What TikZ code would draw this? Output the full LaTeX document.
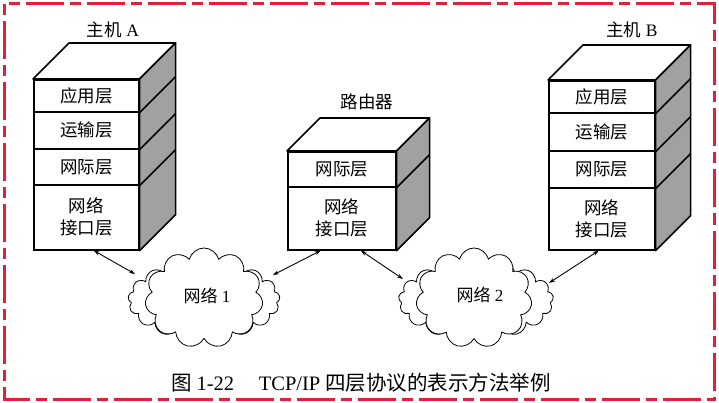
\documentclass[tikz,border=0pt]{standalone}
\usepackage{fontspec}
\setmainfont{Liberation Serif}
\newfontfamily\cjk{Noto Sans CJK SC}
\usetikzlibrary{shapes.symbols,arrows.meta,calc}

\definecolor{frame}{RGB}{226,32,58}
\definecolor{sidegray}{gray}{0.63}

\tikzset{
  layer/.style={draw, line width=1.6pt, fill=white, anchor=north west,
    inner sep=0pt, align=center, font=\fontsize{17.5}{22}\selectfont},
  face/.style={draw, line width=1.6pt, line join=round},
  divider/.style={line width=1.6pt},
  title/.style={font=\fontsize{17.5}{21}\selectfont},
  puffback/.style={cloud, cloud ignores aspect, draw, fill=white,
    line width=0.8pt, inner sep=0pt, cloud puffs=17},
  pufffront/.style={cloud, cloud ignores aspect, draw, fill=white,
    line width=0.8pt, inner sep=0pt, cloud puffs=11},
  netlabel/.style={font=\fontsize{17}{20}\selectfont},
  link/.style={line width=0.9pt,
    {Stealth[length=6pt,width=4pt]}-{Stealth[length=6pt,width=4pt]}},
  border/.style={draw=frame, line width=3pt,
    dash pattern=on 11pt off 6pt on 38pt off 6pt}
}

\begin{document}
\begin{tikzpicture}[x=1pt,y=-1pt]
\useasboundingbox (0,0) rectangle (719,403);

% outer dashed frame
\path[border] (4,4) rectangle (714.5,399.5);

% ---------- host A ----------
\node[title] (tA) at (113,30) {{\cjk 主机} A};
\node[layer, minimum width=105, minimum height=32] (a1) at (33,79) {\cjk 应用层};
\node[layer, minimum width=105, minimum height=37] (a2) at (33,111) {\cjk 运输层};
\node[layer, minimum width=105, minimum height=36] (a3) at (33,148) {\cjk 网际层};
\node[layer, minimum width=105, minimum height=65] (a4) at (33,184) {\cjk 网络\\\cjk 接口层};
\draw[face, fill=white] (a1.north west) -- ++(36,-36) -- ($(a1.north east)+(36,-36)$) -- (a1.north east) -- cycle;
\draw[face, fill=sidegray] (a1.north east) -- ++(36,-36) -- ($(a4.south east)+(36,-36)$) -- (a4.south east) -- cycle;
\foreach \n in {a1,a2,a3} \draw[divider] (\n.south east) -- ++(36,-36);

% ---------- router ----------
\node[title] (tR) at (367,102) {\cjk 路由器};
\node[layer, minimum width=108, minimum height=35] (r1) at (287,151) {\cjk 网际层};
\node[layer, minimum width=108, minimum height=63] (r2) at (287,186) {\cjk 网络\\\cjk 接口层};
\draw[face, fill=white] (r1.north west) -- ++(33,-33) -- ($(r1.north east)+(33,-33)$) -- (r1.north east) -- cycle;
\draw[face, fill=sidegray] (r1.north east) -- ++(33,-33) -- ($(r2.south east)+(33,-33)$) -- (r2.south east) -- cycle;
\draw[divider] (r1.south east) -- ++(33,-33);

% ---------- host B ----------
\node[title] (tB) at (632,30) {{\cjk 主机} B};
\node[layer, minimum width=106, minimum height=32] (b1) at (548,80) {\cjk 应用层};
\node[layer, minimum width=106, minimum height=38] (b2) at (548,112) {\cjk 运输层};
\node[layer, minimum width=106, minimum height=37] (b3) at (548,150) {\cjk 网际层};
\node[layer, minimum width=106, minimum height=62] (b4) at (548,187) {\cjk 网络\\\cjk 接口层};
\draw[face, fill=white] (b1.north west) -- ++(35,-35) -- ($(b1.north east)+(35,-35)$) -- (b1.north east) -- cycle;
\draw[face, fill=sidegray] (b1.north east) -- ++(35,-35) -- ($(b4.south east)+(35,-35)$) -- (b4.south east) -- cycle;
\foreach \n in {b1,b2,b3} \draw[divider] (\n.south east) -- ++(35,-35);

% ---------- networks ----------
\node[puffback, minimum width=152, minimum height=80] (n1b) at (204,300) {};
\node[pufffront, minimum width=118, minimum height=100] (n1) at (204,298) {};
\node[netlabel] (n1t) at (207,296) {{\cjk 网络} 1};

\node[puffback, minimum width=155, minimum height=80] (n2b) at (476,300) {};
\node[pufffront, minimum width=116, minimum height=100] (n2) at (474,298) {};
\node[netlabel] (n2t) at (480,295) {{\cjk 网络} 2};

% attachment points on the clouds
\coordinate (n1w) at ($(n1)+(-69,-24)$);
\coordinate (n1e) at ($(n1)+(69,-23)$);
\coordinate (n2w) at ($(n2)+(-71,-19)$);
\coordinate (n2e) at ($(n2)+(75,-15)$);

% ---------- links ----------
\draw[link] ($(a4.south)+(7.5,0)$) -- (n1w);
\draw[link] ($(r2.south)+(-21,0)$) -- (n1e);
\draw[link] ($(r2.south)+(19,0)$) -- (n2w);
\draw[link] ($(b4.south)+(-3,0)$) -- (n2e);

% ---------- caption ----------
\node[font=\fontsize{20.5}{24}\selectfont] (cap) at (361,383)
  {{\cjk 图} 1-22\hspace{1.2em}TCP/IP {\cjk 四层协议的表示方法举例}};
\end{tikzpicture}
\end{document}
